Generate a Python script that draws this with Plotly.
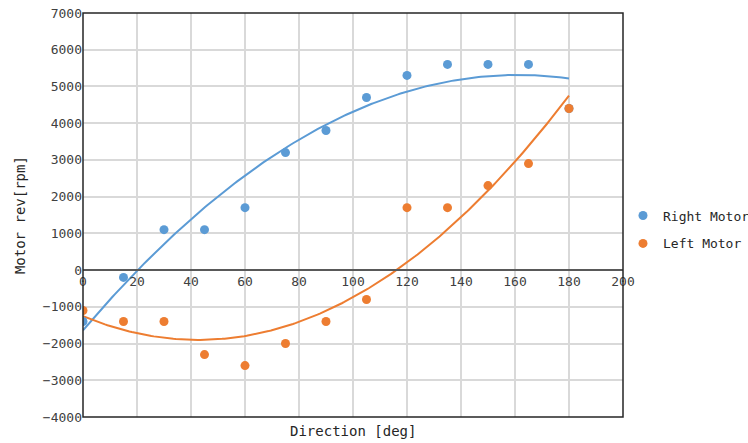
import numpy as np
import plotly.graph_objects as go

direction = [0, 15, 30, 45, 60, 75, 90, 105, 120, 135, 150, 165, 180]
right_motor = [-1400, -200, 1100, 1100, 1700, 3200, 3800, 4700, 5300, 5600, 5600, 5600, 4400]
left_motor = [-1100, -1400, -1400, -2300, -2600, -2000, -1400, -800, 1700, 1700, 2300, 2900, 4400]
x_ticks = [0, 20, 40, 60, 80, 100, 120, 140, 160, 180, 200]
y_ticks = [-4000, -3000, -2000, -1000, 0, 1000, 2000, 3000, 4000, 5000, 6000, 7000]

BLUE = "#5B9BD5"
ORANGE = "#ED7D31"
FONT = "DejaVu Sans Mono"

xs = np.linspace(min(direction), max(direction), 200)
fit_r = np.polyval(np.polyfit(direction, right_motor, 2), xs)
fit_l = np.polyval(np.polyfit(direction, left_motor, 2), xs)

fig = go.Figure()
fig.add_trace(go.Scatter(x=xs, y=fit_r, mode="lines", line=dict(color=BLUE, width=2),
                         showlegend=False, hoverinfo="skip"))
fig.add_trace(go.Scatter(x=xs, y=fit_l, mode="lines", line=dict(color=ORANGE, width=2),
                         showlegend=False, hoverinfo="skip"))
fig.add_trace(go.Scatter(x=direction, y=right_motor, mode="markers", name="Right Motor",
                         legendgroup="r", marker=dict(color=BLUE, size=9)))
fig.add_trace(go.Scatter(x=direction, y=left_motor, mode="markers", name="Left Motor",
                         legendgroup="l", marker=dict(color=ORANGE, size=9)))

fig.update_layout(
    width=748, height=443,
    margin=dict(l=83, r=125, t=13, b=26, autoexpand=False),
    paper_bgcolor="white", plot_bgcolor="white",
    font=dict(family=FONT, size=13, color="#404040"),
    xaxis=dict(range=[0, 200], tickvals=x_ticks, showgrid=True, gridcolor="#D9D9D9", gridwidth=1.5,
               zeroline=False, showline=True, linecolor="#595959", linewidth=1.5,
               anchor="free", position=4/11, ticks="", tickfont=dict(family=FONT, size=13, color="#404040")),
    yaxis=dict(range=[-4000, 7000], tickvals=y_ticks, showgrid=True, gridcolor="#D9D9D9", gridwidth=1.5,
               zeroline=False, showline=False, ticks="", ticklen=0,
               tickfont=dict(family=FONT, size=13, color="#404040")),
    legend=dict(x=1.0, y=0.464, xanchor="left", yanchor="middle", bgcolor="rgba(0,0,0,0)",
                font=dict(family=FONT, size=13, color="#262626"),
                itemwidth=30, tracegroupgap=8),
    showlegend=True,
)
fig.add_shape(type="rect", xref="paper", yref="paper", x0=0, x1=1, y0=0, y1=1,
              line=dict(color="#262626", width=1.5))
fig.add_annotation(text="Direction [deg]", xref="paper", yref="paper", x=0.5, y=-0.01,
                   yanchor="top", showarrow=False, font=dict(family=FONT, size=14, color="#262626"))
fig.add_annotation(text="Motor rev[rpm]", xref="paper", yref="paper", x=-0.135, y=0.5,
                   textangle=-90, showarrow=False, font=dict(family=FONT, size=14, color="#262626"))
fig.write_html("out.html")
